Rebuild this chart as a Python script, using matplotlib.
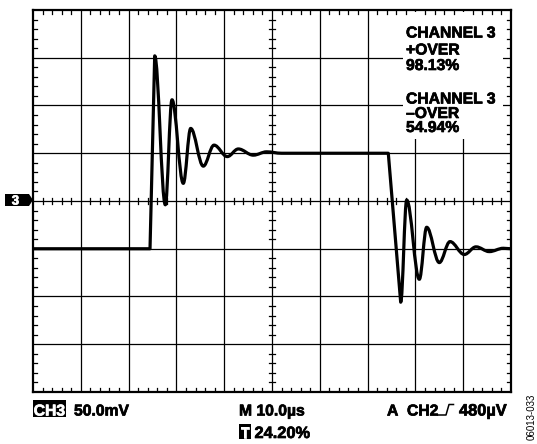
import matplotlib
matplotlib.use("Agg")
import matplotlib.pyplot as plt
from matplotlib.path import Path
from matplotlib.patches import PathPatch, Rectangle, Polygon
from matplotlib.lines import Line2D
import matplotlib.patheffects as pe
import numpy as np

# ---- data (scope divisions) ----
low_level = -1.0
high_level = 1.0
rise_start = 2.448
rise_ext_x = [2.546, 2.768, 2.908, 3.144, 3.299, 3.563, 3.787, 4.065, 4.295, 4.609, 4.889, 5.2]
rise_ext_y = [3.04, -0.08, 2.12, 0.37, 1.52, 0.73, 1.17, 0.93, 1.09, 0.96, 1.03, 1.0]
fall_start = 7.433
fall_ext_x = [7.692, 7.818, 8.082, 8.236, 8.500, 8.724, 9.023, 9.268, 9.546, 9.839, 10.0]
fall_ext_y = [-2.12, 0.02, -1.64, -0.55, -1.29, -0.85, -1.12, -0.96, -1.06, -0.99, -1.0]

block1 = ["CHANNEL 3", "+OVER", "98.13%"]
block2 = ["CHANNEL 3", "\u2013OVER", "54.94%"]

W, H = 537, 444
fig = plt.figure(figsize=(W / 100, H / 100), dpi=100)
L, R, T, B = 33, 511, 10, 392
ax = fig.add_axes([L / W, 1 - B / H, (R - L) / W, (B - T) / H])
ax.set_xlim(0, 10)
ax.set_ylim(-4, 4)
ax.set_xticks([])
ax.set_yticks([])
for s in ax.spines.values():
    s.set_linewidth(1.6)
    s.set_zorder(10)

# grid
for xv in range(1, 10):
    ax.axvline(xv, color="black", lw=0.9, zorder=1)
for yv in range(-3, 4):
    ax.axhline(yv, color="black", lw=0.9, zorder=1)

# minor ticks
tl_x = 0.09
tl_y = 0.09
for xv in np.arange(0.2, 10, 0.2):
    if abs(xv - round(xv)) < 1e-6:
        continue
    ax.plot([xv, xv], [-tl_y * 0.7, tl_y * 0.7], color="black", lw=0.9, zorder=9)
    ax.plot([xv, xv], [4, 4 - tl_y], color="black", lw=0.9, zorder=9)
    ax.plot([xv, xv], [-4, -4 + tl_y], color="black", lw=0.9, zorder=9)
for yv in np.arange(-3.8, 4, 0.2):
    if abs(yv - round(yv)) < 1e-6:
        continue
    ax.plot([5 - tl_x * 0.7, 5 + tl_x * 0.7], [yv, yv], color="black", lw=0.9, zorder=9)
    ax.plot([0, tl_x], [yv, yv], color="black", lw=0.9, zorder=9)
    ax.plot([10 - tl_x, 10], [yv, yv], color="black", lw=0.9, zorder=9)

# white box for annotations
inv = ax.transData.inverted()
def px2data(px, py):
    return inv.transform(fig.transFigure.transform((px / W, 1 - py / H)))
(x0, y1) = px2data(403, 12)
(x1, y0) = px2data(503, 139)
ax.add_patch(Rectangle((x0, y0), x1 - x0, y1 - y0, facecolor="white", edgecolor="none", zorder=3))

# trace
def curve_segments(start_x, start_level, ext_x, ext_y):
    verts = [(start_x, start_level), (ext_x[0], ext_y[0])]
    codes = [Path.LINETO, Path.LINETO]
    k = 0.3642
    for i in range(1, len(ext_x)):
        xa, ya = ext_x[i - 1], ext_y[i - 1]
        xb, yb = ext_x[i], ext_y[i]
        dx = xb - xa
        verts += [(xa + k * dx, ya), (xb - k * dx, yb), (xb, yb)]
        codes += [Path.CURVE4] * 3
    return verts, codes

verts = [(0, low_level)]
codes = [Path.MOVETO]
v, c = curve_segments(rise_start, low_level, rise_ext_x, rise_ext_y)
verts += v; codes += c
v, c = curve_segments(fall_start, high_level, fall_ext_x, fall_ext_y)
verts += v; codes += c
ax.add_patch(PathPatch(Path(verts, codes), facecolor="none", edgecolor="black",
                       lw=2.3, joinstyle="round", capstyle="round", zorder=5))

FONT = "Liberation Sans"
def ftext(px, py, s, color="black", **kw):
    kw.setdefault("fontsize", 11.3)
    kw.setdefault("fontweight", "bold")
    kw.setdefault("family", FONT)
    t = fig.text(px / W, 1 - py / H, s, color=color, **kw)
    if kw["fontweight"] == "bold":
        t.set_path_effects([pe.withStroke(linewidth=0.5, foreground=color)])
    return t

for s, by in zip(block1, [37.5, 54.5, 70]):
    ftext(406, by, s, va="baseline", zorder=6)
for s, by in zip(block2, [103.5, 118, 132]):
    ftext(406, by, s, va="baseline", zorder=6)

# channel marker "3"
mk = [(5, 194), (29, 194), (33, 200), (29, 206), (5, 206)]
fig.patches.append(Polygon([(x / W, 1 - y / H) for x, y in mk], closed=True,
                   facecolor="black", edgecolor="none", transform=fig.transFigure))
ftext(15.5, 204.5, "3", color="white", fontsize=9.5, ha="center", va="baseline")

# bottom labels
fig.patches.append(Rectangle((33 / W, 1 - 417 / H), 33 / W, 17 / H, facecolor="black",
                             edgecolor="none", transform=fig.transFigure))
ftext(49.5, 415.5, "CH3", color="white", ha="center", va="baseline")
ftext(74, 415.5, "50.0mV", va="baseline")
ftext(239, 415.5, "M 10.0\u00b5s", va="baseline")
fig.patches.append(Rectangle((239 / W, 1 - 439 / H), 12 / W, 15 / H, facecolor="black",
                             edgecolor="none", transform=fig.transFigure))
ftext(245, 437.5, "T", color="white", ha="center", va="baseline", fontsize=10.5)
ftext(254.5, 438, "24.20%", va="baseline", fontsize=11.8)
ftext(387, 415.5, "A", va="baseline")
ftext(407, 415.5, "CH2", va="baseline")
sym = [(438, 415), (446, 415), (449, 404.5), (453.5, 404.5)]
fig.lines.append(Line2D([p[0] / W for p in sym], [1 - p[1] / H for p in sym], color="black",
                        lw=1.1, transform=fig.transFigure))
ftext(459, 415.5, "480\u00b5V", va="baseline", fontsize=11.8)

ftext(532, 417, "06013-033", fontsize=7, fontweight="normal", rotation=90,
      ha="center", va="center")

fig.savefig("out.png", dpi=100)
